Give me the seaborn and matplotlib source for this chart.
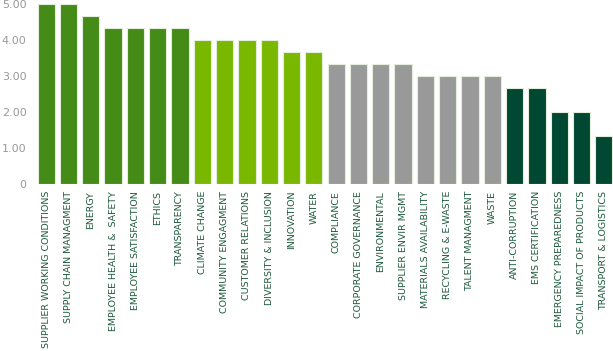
import matplotlib
matplotlib.use("Agg")
import matplotlib.pyplot as plt
import pandas as pd
import seaborn as sns

categories = ['SUPPLIER WORKING CONDITIONS', 'SUPPLY CHAIN MANAGMENT', 'ENERGY',
              'EMPLOYEE HEALTH &  SAFETY', 'EMPLOYEE SATISFACTION', 'ETHICS',
              'TRANSPARENCY', 'CLIMATE CHANGE', 'COMMUNITY ENGAGMENT',
              'CUSTOMER RELATIONS', 'DIVERSITY & INCLUSION', 'INNOVATION', 'WATER',
              'COMPLIANCE', 'CORPORATE GOVERNANCE', 'ENVIRONMENTAL',
              'SUPPLIER ENVIR MGMT', 'MATERIALS AVAILABILITY', 'RECYCLING & E-WASTE',
              'TALENT MANAGMENT', 'WASTE', 'ANTI-CORRUPTION', 'EMS CERTIFICATION',
              'EMERGENCY PREPAREDNESS', 'SOCIAL IMPACT OF PRODUCTS',
              'TRANSPORT & LOGISTICS']
scores = [5.0, 5.0, 4.67, 4.33, 4.33, 4.33, 4.33, 4.0, 4.0, 4.0, 4.0, 3.67, 3.67,
          3.33, 3.33, 3.33, 3.33, 3.0, 3.0, 3.0, 3.0, 2.67, 2.67, 2.0, 2.0, 1.33]
groups = ['a'] * 7 + ['b'] * 6 + ['c'] * 8 + ['d'] * 5
group_colors = {'a': '#458b17', 'b': '#7ab800', 'c': '#999999', 'd': '#004831'}
yticks = [0, 1, 2, 3, 4, 5]
ytick_labels = ['0', '1.00', '2.00', '3.00', '4.00', '5.00']

df = pd.DataFrame({'topic': categories, 'score': scores, 'group': groups})

sns.set_style("white")
fig = plt.figure(figsize=(6.13, 3.51), dpi=100)
ax = fig.add_axes([35 / 613, 1 - 184 / 351, 580 / 613, 180 / 351])

sns.barplot(data=df, x='topic', y='score', hue='group', palette=group_colors,
            dodge=False, width=0.77, legend=False, ax=ax, saturation=1,
            edgecolor='#e4ecdc', linewidth=0.8)

ax.set_ylim(0, 5)
ax.set_xlim(-0.5, len(categories) - 0.5)
ax.set_yticks(yticks)
ax.set_yticklabels(ytick_labels, color='#999999', fontsize=8)
ax.set_xticks(range(len(categories)))
ax.set_xticklabels(categories, rotation=90, fontsize=6.8, color='#1e5a3c',
                   va='top', ha='center')
ax.tick_params(axis='both', length=0)
ax.tick_params(axis='y', pad=6)
ax.tick_params(axis='x', pad=5)
ax.set_xlabel('')
ax.set_ylabel('')
sns.despine(ax=ax, left=True, bottom=True)

fig.savefig('out.png', dpi=100)
